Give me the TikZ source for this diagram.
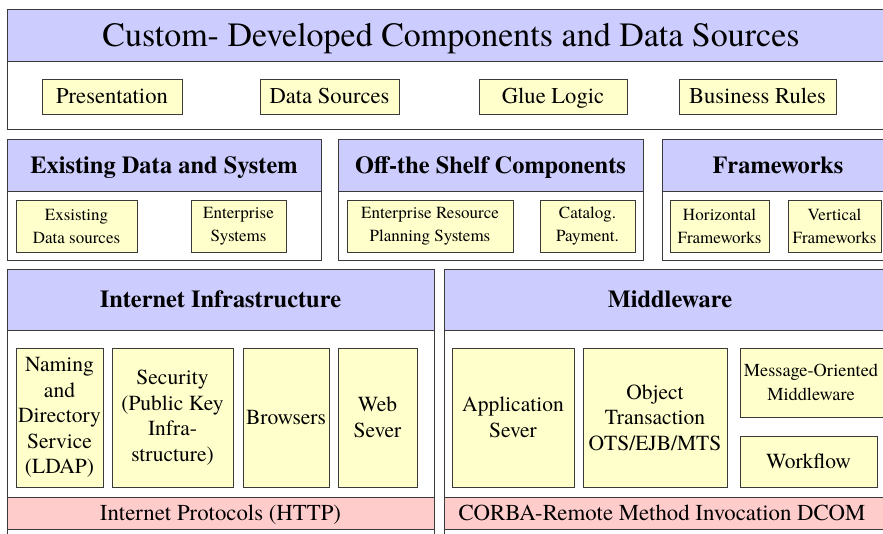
\documentclass[tikz,border=0pt]{standalone}
\usepackage{fontspec}
\setmainfont{TeX Gyre Termes}
\definecolor{hdrblue}{HTML}{CCCCFF}
\definecolor{noteyellow}{HTML}{FFFFCC}
\definecolor{protopink}{HTML}{FFCCCC}
\definecolor{edge}{HTML}{3A3A3A}
\begin{document}
\begin{tikzpicture}[x=1pt,y=-1pt,
  frame/.style={draw=edge, line width=1pt, inner sep=0pt, outer sep=0pt,
                anchor=north west, align=center},
  % single-line labels: capitals centred vertically in their box (#1 = cap height)
  oneline/.style={text height=#1, text depth=0pt},
  title/.style={frame, oneline=22.4pt, fill=hdrblue, font=\rmfamily\fontsize{34}{40}\selectfont},
  head/.style={frame, oneline=16.1pt, fill=hdrblue, font=\rmfamily\fontsize{24.4}{29}\selectfont\bfseries},
  panel/.style={frame, fill=white},
  item/.style={frame, oneline=14.9pt, fill=noteyellow, font=\rmfamily\fontsize{22.6}{27}\selectfont},
  smallitem/.style={frame, fill=noteyellow, font=\rmfamily\fontsize{17}{23}\selectfont},
  tallitem/.style={frame, fill=noteyellow, font=\rmfamily\fontsize{21.5}{25.5}\selectfont},
  mom/.style={frame, fill=noteyellow, font=\rmfamily\fontsize{18.3}{24}\selectfont},
  proto/.style={frame, oneline=15pt, fill=protopink, font=\rmfamily\fontsize{22.8}{27}\selectfont},
]
\useasboundingbox (0,0) rectangle (883,533);
\fill[white] (0,0) rectangle (883,533);
\clip (0,0) rectangle (883,533);

% ---- Custom-developed layer
\node[title, minimum width=888, minimum height=52] (cdhead) at (7,9)
  {Custom- Developed Components and Data Sources};
\node[panel, minimum width=888, minimum height=68] (cdbody) at (7,61) {};
\node[item, minimum width=140, minimum height=35] (pres)  at (42,79)  {Presentation};
\node[item, minimum width=139, minimum height=35] (dsrc)  at (260,79) {Data Sources};
\node[item, minimum width=148, minimum height=35] (glue)  at (479,79) {Glue Logic};
\node[item, minimum width=157, minimum height=35] (brule) at (679,79) {Business Rules};

% ---- Existing data and systems
\node[head,  minimum width=314, minimum height=52] (exhead) at (7,139) {Existing Data and System};
\node[panel, minimum width=314, minimum height=69] (exbody) at (7,191) {};
\node[smallitem, minimum width=121, minimum height=52] (exds) at (16,200)  {Exsisting\\Data sources};
\node[smallitem, minimum width=95,  minimum height=52] (ensy) at (191,200) {Enterprise\\Systems};

% ---- Off-the-shelf components
\node[head,  minimum width=305, minimum height=52] (ofhead) at (338,139) {Off-the Shelf Components};
\node[panel, minimum width=305, minimum height=69] (ofbody) at (338,191) {};
\node[smallitem, minimum width=166, minimum height=52] (erp)  at (347,200) {Enterprise Resource\\Planning Systems};
\node[smallitem, minimum width=95,  minimum height=52] (catl) at (540,200) {Catalog.\\Payment.};

% ---- Frameworks
\node[head,  minimum width=232, minimum height=52] (fwhead) at (662,139) {Frameworks};
\node[panel, minimum width=232, minimum height=69] (fwbody) at (662,191) {};
\node[smallitem, minimum width=99, minimum height=52] (hfw) at (670,200) {Horizontal\\Frameworks};
\node[smallitem, minimum width=93, minimum height=52] (vfw) at (788,200) {Vertical\\Frameworks};

% ---- Internet infrastructure
\node[panel, minimum width=427, minimum height=60] (inbase)  at (7,500) {};
\node[head,  minimum width=427, minimum height=61] (inhead)  at (7,269) {Internet Infrastructure};
\node[panel, minimum width=427, minimum height=167] (inbody) at (7,330) {};
\node[proto, minimum width=427, minimum height=32] (inproto) at (7,497) {Internet Protocols (HTTP)};
\node[tallitem, minimum width=87,  minimum height=139] (ldap) at (16,348)
  {Naming\\and\\Directory\\Service\\(LDAP)};
\node[tallitem, minimum width=121, minimum height=139] (pki)  at (112,348)
  {Security\\(Public Key\\Infra-\\structure)};
\node[tallitem, oneline=14.2pt, minimum width=86, minimum height=139] (brow) at (243,348) {Browsers};
\node[tallitem, minimum width=79,  minimum height=139] (wsrv) at (338,348) {Web\\Sever};

% ---- Middleware
\node[panel, minimum width=452, minimum height=60] (mwbase)  at (444,500) {};
\node[head,  minimum width=452, minimum height=61] (mwhead)  at (444,269) {Middleware};
\node[panel, minimum width=452, minimum height=167] (mwbody) at (444,330) {};
\node[proto, minimum width=452, minimum height=32] (mwproto) at (444,497)
  {\hspace*{-16pt}CORBA-Remote Method Invocation DCOM};
\node[tallitem, minimum width=122, minimum height=139] (apps) at (452,348) {Application\\Sever};
\node[tallitem, minimum width=144, minimum height=139] (ots)  at (583,348)
  {Object\\Transaction\\OTS/EJB/MTS};
\node[mom, minimum width=147, minimum height=69] (momw) at (740,348)
  {\hspace*{-5pt}Message-Oriented\\\hspace*{-5pt}Middleware};
\node[tallitem, oneline=14.2pt, minimum width=137, minimum height=51] (wflow) at (740,436) {Workflow};
\end{tikzpicture}
\end{document}
